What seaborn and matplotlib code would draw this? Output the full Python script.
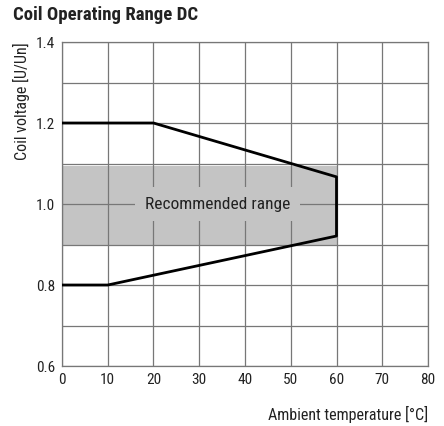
import numpy as np
import pandas as pd
import matplotlib
matplotlib.use('Agg')
import matplotlib.pyplot as plt
import seaborn as sns
from matplotlib import font_manager

# Envolvente de operación (temperatura ambiente vs tensión de bobina)
temp_env = [0, 20, 60, 60, 10, 0]
volt_env = [1.2, 1.2, 1.067, 0.921, 0.8, 0.8]

# Rango recomendado
rango_temp = [0, 60]
rango_min = 0.9
rango_max = 1.095

x_ticks = [0, 10, 20, 30, 40, 50, 60, 70, 80]
y_ticks = [0.6, 0.8, 1.0, 1.2, 1.4]

sns.set_style('white')
# Fuente angosta si existe
disponibles = {f.name for f in font_manager.fontManager.ttflist}
familias = [f for f in ['Liberation Sans Narrow', 'Roboto Condensed', 'Roboto'] if f in disponibles]
plt.rcParams['font.family'] = familias + ['DejaVu Sans']

df = pd.DataFrame({'temp': temp_env, 'volt': volt_env})

fig = plt.figure(figsize=(4.44, 4.26), dpi=100)
ax = fig.add_axes([0.1396, 0.1408, 0.8244, 0.7606])

# Banda gris
ax.fill_between(rango_temp, rango_min, rango_max, color='#c4c4c4', lw=0, zorder=1)

# Envolvente
sns.lineplot(data=df, x='temp', y='volt', sort=False, estimator=None, color='black',
             lw=2, ax=ax, zorder=4)

ax.set_xlim(0, 80)
ax.set_ylim(0.6, 1.4)
ax.set_xticks(x_ticks)
ax.set_yticks(y_ticks)
ax.set_yticks(np.arange(0.6, 1.41, 0.1), minor=True)
ax.set_xticklabels([str(t) for t in x_ticks])
ax.set_yticklabels([f'{t:.1f}' for t in y_ticks])
ax.tick_params(length=0, labelsize=11, colors='#222222', pad=5)
ax.grid(which='both', color='#777777', lw=0.9)
ax.set_axisbelow(False)
for s in ax.spines.values():
    s.set_color('#777777')
    s.set_linewidth(0.9)

ax.text(34, 1.0, 'Recommended range', ha='center', va='center', fontsize=12.5,
        color='#222222', zorder=3,
        bbox=dict(facecolor='#c4c4c4', edgecolor='none', pad=7))

ax.set_xlabel('Ambient temperature [°C]', loc='right', fontsize=11.5, color='#222222', labelpad=14)
ax.set_ylabel('Coil voltage [U/Un]', loc='top', fontsize=11.5, color='#222222', labelpad=4)

fig.text(0.03, 0.965, 'Coil Operating Range DC', fontsize=13.5, fontweight='bold',
         va='center', ha='left', color='#222222')

fig.savefig('out.png', dpi=100)
